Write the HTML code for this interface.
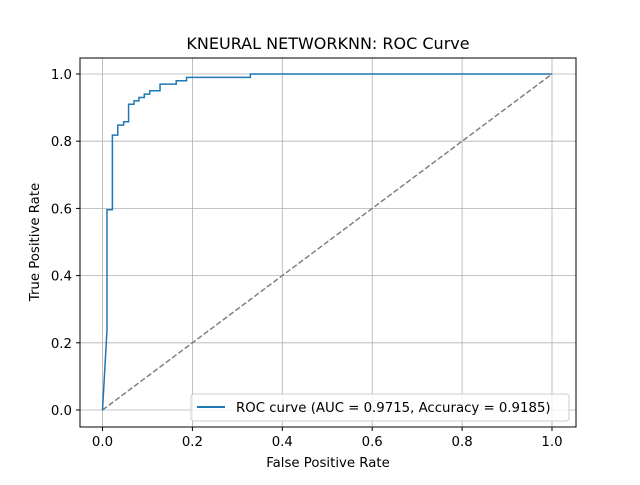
<!DOCTYPE html>
<html><head><meta charset="utf-8"><style>
body{margin:0;background:#fff}
svg text{font-family:"DejaVu Sans","Liberation Sans",sans-serif;fill:#000}
</style></head><body>
<svg id="c" width="640" height="480" viewBox="0 0 640 480">
<rect width="640" height="480" fill="#fff"/>
<g id="grid"></g>
<g id="curves"></g>
<rect x="80" y="58" width="496" height="369" fill="none" stroke="#000" stroke-width="1"/>
<g id="ticks"></g>
<text x="328" y="49" font-size="16" text-anchor="middle">KNEURAL NETWORKNN: ROC Curve</text>
<text x="328" y="467" font-size="13.3" text-anchor="middle">False Positive Rate</text>
<text transform="translate(39,242) rotate(-90)" font-size="13.3" text-anchor="middle">True Positive Rate</text>
<g>
<rect x="191" y="394" width="378" height="27" rx="3" fill="#fff" fill-opacity="0.8" stroke="#ccc"/>
<line x1="197" y1="407" x2="225" y2="407" stroke="#1f77b4" stroke-width="2"/>
<text x="236" y="412" font-size="13.3">ROC curve (AUC = 0.9715, Accuracy = 0.9185)</text>
</g>
</svg>
<script>
const fpr=[0,0.010,0.010,0.022,0.022,0.034,0.034,0.047,0.047,0.058,0.058,0.070,0.070,0.081,0.081,0.093,0.093,0.105,0.105,0.128,0.128,0.164,0.164,0.187,0.187,0.329,0.329,1.0];
const tpr=[0,0.238,0.596,0.596,0.818,0.818,0.848,0.848,0.858,0.858,0.910,0.910,0.920,0.920,0.930,0.930,0.940,0.940,0.950,0.950,0.970,0.970,0.980,0.980,0.990,0.990,1.0,1.0];
const xTicks=["0.0","0.2","0.4","0.6","0.8","1.0"];
const yTicks=["0.0","0.2","0.4","0.6","0.8","1.0"];
const NS="http://www.w3.org/2000/svg";
const X=v=>102.5+v*449.5, Y=v=>410-v*336;
function mk(t,a,p){const e=document.createElementNS(NS,t);for(const k in a)e.setAttribute(k,a[k]);document.getElementById(p).appendChild(e);return e;}
xTicks.forEach(t=>{const v=parseFloat(t),x=X(v);
 const g=mk('line',{x1:x,x2:x,y1:58,y2:427,stroke:'#b0b0b0','stroke-width':0.8},'grid');
 
 
 const k=mk('line',{x1:x,x2:x,y1:427,y2:431,stroke:'#000'},'ticks');
 
 
 const l=mk('text',{x:x,y:446,'font-size':13.3,'text-anchor':'middle'},'ticks');l.textContent=t;
 
 
});
yTicks.forEach(t=>{const v=parseFloat(t),y=Y(v);
 const g=mk('line',{x1:80,x2:576,y1:y,y2:y,stroke:'#b0b0b0','stroke-width':0.8},'grid');
 
 
 const k=mk('line',{x1:76,x2:80,y1:y,y2:y,stroke:'#000'},'ticks');
 
 
 const l=mk('text',{x:72,y:y+5,'font-size':13.3,'text-anchor':'end'},'ticks');l.textContent=t;
 
 
});
const d=mk('line',{x1:X(0),y1:Y(0),x2:X(1),y2:Y(1),stroke:'#808080','stroke-width':1.5,'stroke-dasharray':'5.5,2.4'},'curves');


const p=mk('polyline',{points:fpr.map((f,i)=>X(f)+','+Y(tpr[i])).join(' '),fill:'none',stroke:'#1f77b4','stroke-width':1.5},'curves');


</script>
</body></html>
